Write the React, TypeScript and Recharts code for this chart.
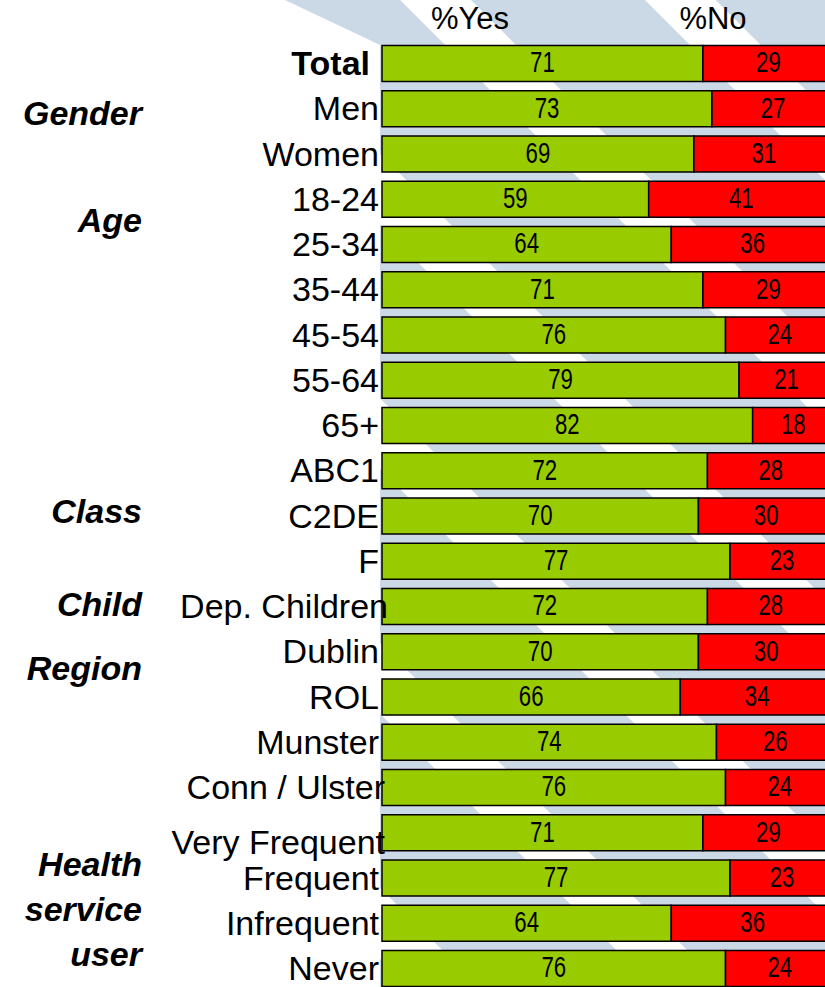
import React from "react";
import { BarChart, Bar, XAxis, YAxis, LabelList } from "recharts";

// rows, top to bottom
const categories = [
  "Total",
  "Men",
  "Women",
  "18-24",
  "25-34",
  "35-44",
  "45-54",
  "55-64",
  "65+",
  "ABC1",
  "C2DE",
  "F",
  "Dep. Children",
  "Dublin",
  "ROL",
  "Munster",
  "Conn / Ulster",
  "Very Frequent",
  "Frequent",
  "Infrequent",
  "Never",
];
const yesValues = [71, 73, 69, 59, 64, 71, 76, 79, 82, 72, 70, 77, 72, 70, 66, 74, 76, 71, 77, 64, 76];
const noValues = [29, 27, 31, 41, 36, 29, 24, 21, 18, 28, 30, 23, 28, 30, 34, 26, 24, 29, 23, 36, 24];
const seriesNames = ["%Yes", "%No"];

// group captions and the row each one sits next to
const groupRows = ["Men", "18-24", "C2DE", "Dep. Children", "Dublin", "Very Frequent"];
const groupLabels = [["Gender"], ["Age"], ["Class"], ["Child"], ["Region"], ["Health", "service", "user"]];

const data = categories.map((name, i) => ({ name, yes: yesValues[i], no: noValues[i] }));

const SANS = "'Liberation Sans', Arial, sans-serif";

// small nudges so labels sit like in the original slide
const labelNudge: Record<string, { dx: number; dy: number }> = {
  Total: { dx: -9, dy: 0 },
  "Dep. Children": { dx: 9, dy: 0 },
  "Conn / Ulster": { dx: 6, dy: 0 },
  "Very Frequent": { dx: 6, dy: 10 },
};
const groupOffset: Record<string, number> = {
  Men: 5,
  "18-24": 21,
  C2DE: -5,
  "Dep. Children": -2,
  Dublin: 17,
  "Very Frequent": 32,
};

const CategoryTick = (props: any) => {
  const { x, y, payload } = props;
  const name = payload.value as string;
  const nudge = labelNudge[name] || { dx: 0, dy: 0 };
  const gi = groupRows.indexOf(name);
  return (
    <g>
      <text
        x={x + nudge.dx}
        y={y + nudge.dy + 12}
        textAnchor="end"
        fontFamily={SANS}
        fontSize={34}
        fontWeight={name === "Total" ? "bold" : "normal"}
        fill="#000"
      >
        {name}
      </text>
      {gi >= 0 &&
        groupLabels[gi].map((line, i) => (
          <text
            key={line}
            x={142}
            y={y + groupOffset[name] + i * 45 + 12}
            textAnchor="end"
            fontFamily={SANS}
            fontSize={34}
            fontWeight="bold"
            fontStyle="italic"
            fill="#000"
          >
            {line}
          </text>
        ))}
    </g>
  );
};

// condensed value text in the middle of each segment
const ValueLabel = (props: any) => {
  const { x, y, width, height, value } = props;
  const cx = Number(x) + Number(width) / 2;
  const cy = Number(y) + Number(height) / 2 - 1.5;
  return (
    <g transform={`translate(${cx},${cy}) scale(0.74,1)`}>
      <text
        x={0}
        y={10.5}
        textAnchor="middle"
        fontFamily={SANS}
        fontSize={30}
        fill="#000"
      >
        {value}
      </text>
    </g>
  );
};

export default function App() {
  return (
    <div
      style={{
        position: "absolute",
        left: 0,
        top: 0,
        width: 825,
        height: 987,
        overflow: "hidden",
        background: "#fff",
      }}
    >
      {/* faint diagonal watermark + column headers */}
      <svg style={{ position: "absolute", left: 0, top: 0 }} width={825} height={987}>
        <defs>
          <pattern
            id="stripes"
            patternUnits="userSpaceOnUse"
            width={173}
            height={173}
            patternTransform="rotate(-45)"
          >
            <rect width={173} height={173} fill="#CBD9E7" />
            <rect x={110} width={50} height={173} fill="#FFFFFF" />
          </pattern>
        </defs>
        <polygon points="285,0 825,0 825,987 380,987 380,45" fill="url(#stripes)" />
        <text x={470} y={29} textAnchor="middle" fontFamily={SANS} fontSize={31} fill="#000">
          {seriesNames[0]}
        </text>
        <text x={713} y={29} textAnchor="middle" fontFamily={SANS} fontSize={31} fill="#000">
          {seriesNames[1]}
        </text>
      </svg>

      <div style={{ position: "absolute", left: 0, top: 0 }}>
        <BarChart
          width={850}
          height={1000}
          data={data}
          layout="vertical"
          margin={{ top: 40.4, right: 16, bottom: 9.35, left: 0 }}
        >
          <XAxis type="number" domain={[0, 100]} hide />
          <YAxis
            type="category"
            dataKey="name"
            width={382}
            axisLine={false}
            tickLine={false}
            tickSize={0}
            tickMargin={3}
            interval={0}
            tick={(p: any) => <CategoryTick {...p} />}
          />
          <Bar
            dataKey="yes"
            name={seriesNames[0]}
            stackId="a"
            fill="#99CC00"
            stroke="#000"
            strokeWidth={1.5}
            barSize={36}
            isAnimationActive={false}
          >
            <LabelList dataKey="yes" content={(p: any) => <ValueLabel {...p} />} />
          </Bar>
          <Bar
            dataKey="no"
            name={seriesNames[1]}
            stackId="a"
            fill="#FF0000"
            stroke="#000"
            strokeWidth={1.5}
            barSize={36}
            isAnimationActive={false}
          >
            <LabelList dataKey="no" content={(p: any) => <ValueLabel {...p} />} />
          </Bar>
        </BarChart>
      </div>
    </div>
  );
}
